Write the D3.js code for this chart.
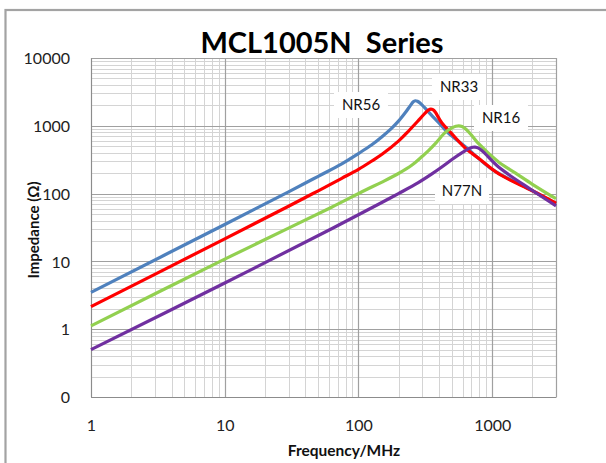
<!DOCTYPE html>
<html><head><meta charset="utf-8">
<script src="https://cdn.jsdelivr.net/npm/d3@7"></script>
<style>body{margin:0;background:#fff}svg{display:block}</style>
</head><body>
<svg id="c" width="606" height="463"></svg>
<script>
// ---- data ----
const title = "MCL1005N  Series";
const xLabel = "Frequency/MHz";
const yLabel = "Impedance (Ω)";
const xTickValues = [1, 10, 100, 1000];
const xTickLabels = ["1", "10", "100", "1000"];
const yTickValues = [0.1, 1, 10, 100, 1000, 10000];
const yTickLabels = ["0", "1", "10", "100", "1000", "10000"];
const seriesNames = ["NR56", "NR33", "NR16", "N77N"];
const seriesColors = ["#4F81BD", "#FF0000", "#92D050", "#7030A0"];

const freqNR56 = [1, 10, 30, 50, 75, 100, 125, 150, 175, 200, 225, 245, 257, 266, 276, 290, 310, 350, 400, 470, 630, 1000, 2000, 3000];
const zNR56    = [3.5, 35, 106, 180, 275, 390, 520, 690, 900, 1180, 1580, 2000, 2260, 2340, 2300, 2150, 1880, 1450, 1100, 780, 490, 228, 110, 71];
const freqNR33 = [1, 10, 30, 50, 75, 100, 125, 150, 200, 240, 281, 315, 335, 348, 360, 375, 395, 421, 500, 630, 800, 1122, 2000, 3000];
const zNR33    = [2.15, 21.5, 65, 110, 168, 228, 300, 380, 600, 860, 1200, 1540, 1720, 1765, 1730, 1600, 1340, 1100, 760, 469, 326, 195, 110, 72];
const freqNR16 = [1, 10, 30, 63, 111, 150, 199, 250, 300, 334, 380, 446, 500, 535, 562, 595, 640, 700, 795, 1122, 1496, 2000, 3000];
const zNR16    = [1.12, 10.8, 31, 63, 111, 148, 198, 262, 355, 430, 560, 800, 930, 985, 1000, 975, 880, 730, 540, 290, 200, 137, 84];
const freqN77N = [1, 10, 63, 140, 199, 280, 354, 430, 500, 600, 670, 715, 745, 790, 850, 1122, 2000, 3000];
const zN77N    = [0.5, 4.8, 30.3, 69, 100, 145, 195, 255, 318, 405, 460, 482, 485, 468, 420, 244, 111, 66];
const labelPos = [[361, 105], [459, 87], [501, 118], [462, 191]]; // label centres (pixels)

const seriesFreq = [freqNR56, freqNR33, freqNR16, freqN77N];
const seriesZ = [zNR56, zNR33, zNR16, zN77N];

// ---- layout ----
const svg = d3.select("#c");
const font = "Lato, 'Open Sans', sans-serif";
const L = 91, R = 556, T = 58, B = 397;
const x = d3.scaleLog().domain([1, 3000]).range([L, R]);
const y = d3.scaleLog().domain([0.1, 10000]).range([B, T]);

// frame
svg.append("rect").attr("x", 5.5).attr("y", 10).attr("width", 800).attr("height", 800)
  .attr("fill", "#fff").attr("stroke", "#a3a3a3").attr("stroke-width", 2.2);

// minor gridlines
const minorX = [], minorY = [];
for (let d = 1; d <= 1000; d *= 10) for (let k = 2; k <= 9; k++) { const v = k * d; if (v < 3000) minorX.push(v); }
for (let d = 0.1; d <= 1000; d *= 10) for (let k = 2; k <= 9; k++) minorY.push(k * d);
const g = svg.append("g");
g.selectAll(".mx").data(minorX).join("line")
  .attr("x1", d => Math.round(x(d)) + 0.5).attr("x2", d => Math.round(x(d)) + 0.5)
  .attr("y1", T).attr("y2", B).attr("stroke", "#d4d4d4").attr("stroke-width", 1);
g.selectAll(".my").data(minorY).join("line")
  .attr("y1", d => Math.round(y(d)) + 0.5).attr("y2", d => Math.round(y(d)) + 0.5)
  .attr("x1", L).attr("x2", R).attr("stroke", "#d4d4d4").attr("stroke-width", 1);
// major gridlines
g.selectAll(".Mx").data(xTickValues.concat([3000])).join("line")
  .attr("x1", d => Math.round(x(d)) + 0.5).attr("x2", d => Math.round(x(d)) + 0.5)
  .attr("y1", T).attr("y2", B).attr("stroke", "#a0a0a0").attr("stroke-width", 1.2);
g.selectAll(".My").data(yTickValues).join("line")
  .attr("y1", d => Math.round(y(d)) + 0.5).attr("y2", d => Math.round(y(d)) + 0.5)
  .attr("x1", L).attr("x2", R).attr("stroke", "#a0a0a0").attr("stroke-width", 1.2);

// axes (labels via d3 axes)
const xAxis = d3.axisBottom(x).tickValues(xTickValues).tickFormat((d, i) => xTickLabels[i]).tickSize(0).tickPadding(0);
const yAxis = d3.axisLeft(y).tickValues(yTickValues).tickFormat((d, i) => yTickLabels[i]).tickSize(0).tickPadding(0);
const gx = svg.append("g").attr("transform", `translate(0,${B})`).call(xAxis);
gx.select(".domain").attr("stroke", "#8c8c8c");
gx.selectAll("text").attr("dy", null).attr("y", 34).attr("font-family", font).attr("font-size", 16).attr("fill", "#222");
const gy = svg.append("g").attr("transform", `translate(${L},0)`).call(yAxis);
gy.select(".domain").attr("stroke", "#8c8c8c");
gy.selectAll("text").attr("x", -21).attr("dy", "0.35em").attr("font-family", font).attr("font-size", 16).attr("fill", "#222");

// series lines
const line = d3.line().x(d => x(d[0])).y(d => y(d[1])).curve(d3.curveCatmullRom.alpha(0.5));
seriesNames.forEach((n, i) => {
  const pts = seriesFreq[i].map((f, j) => [f, seriesZ[i][j]]);
  svg.append("path").datum(pts).attr("d", line).attr("fill", "none")
    .attr("stroke", seriesColors[i]).attr("stroke-width", 3.2).attr("stroke-linejoin", "round");
});

// series labels with white boxes
seriesNames.forEach((n, i) => {
  const [cx, cy] = labelPos[i];
  svg.append("rect").attr("x", cx - 27).attr("y", cy - 13).attr("width", 54).attr("height", 26).attr("fill", "#fff");
  svg.append("text").attr("x", cx).attr("y", cy).attr("dy", "0.35em").attr("text-anchor", "middle")
    .attr("font-family", font).attr("font-size", 15).attr("fill", "#111").text(n);
});

// titles
svg.append("text").attr("x", 322).attr("y", 53).attr("text-anchor", "middle").style("white-space", "pre")
  .attr("font-family", font).attr("font-weight", "bold").attr("font-size", 29).attr("fill", "#000").text(title);
svg.append("text").attr("x", 344).attr("y", 456).attr("text-anchor", "middle")
  .attr("font-family", font).attr("font-weight", "bold").attr("font-size", 15.5).attr("fill", "#111").text(xLabel);
svg.append("text").attr("transform", "translate(39,230) rotate(-90)").attr("text-anchor", "middle")
  .attr("font-family", font).attr("font-weight", "bold").attr("font-size", 15).attr("fill", "#111").text(yLabel);
</script>
</body></html>
